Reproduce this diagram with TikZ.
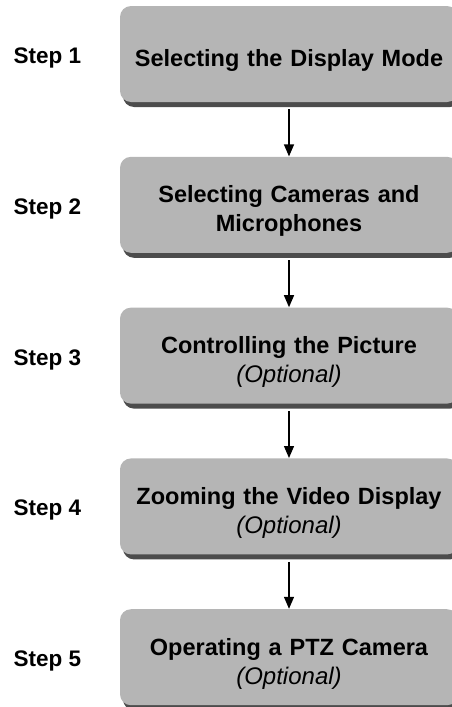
\documentclass[tikz,border=0pt]{standalone}
\usepackage{fontspec}
\setmainfont{Liberation Sans}
\usepackage{tikz}
\usetikzlibrary{shapes,arrows.meta,positioning,shadows}

\begin{document}
\begin{tikzpicture}[x=1pt, y=-1pt, node distance=54pt, thick]
  \tikzstyle{block} = [rectangle, fill=black!29, rounded corners=11pt, minimum width=338pt, minimum height=96pt, text width=330pt, align=center, inner sep=0pt, font=\fontsize{23.5}{29}\selectfont\bfseries, execute at begin node={\rule{0pt}{30pt}}, drop shadow={fill=black!70, shadow xshift=3pt, shadow yshift=-5pt, opacity=1}]
  \tikzstyle{steplabel} = [font=\fontsize{22.5}{26}\selectfont\bfseries, inner sep=0pt]
  \tikzstyle{arrow} = [draw, line width=1.3pt, -{Triangle[width=10pt,length=12pt]}]
  \newcommand{\optional}{\\{\fontsize{24}{29}\selectfont\mdseries\itshape (Optional)}}

  \useasboundingbox (0,0) rectangle (452,707);

  \node[block] at (289,54) (display) {Selecting the Display Mode};
  \node[block, below=of display] (cameras) {Selecting Cameras and\\Microphones};
  \node[block, below=of cameras] (picture) {Controlling the Picture\optional};
  \node[block, below=of picture] (zoom) {Zooming the Video Display\optional};
  \node[block, below=of zoom] (ptz) {Operating a PTZ Camera\optional};

  \node[steplabel, left=38pt of display, yshift=-4pt] (s1) {Step 1};
  \node[steplabel, left=38pt of cameras, yshift=-4pt] (s2) {Step 2};
  \node[steplabel, left=38pt of picture, yshift=-4pt] (s3) {Step 3};
  \node[steplabel, left=38pt of zoom, yshift=-4pt] (s4) {Step 4};
  \node[steplabel, left=38pt of ptz, yshift=-4pt] (s5) {Step 5};

  \path[arrow, shorten <=7pt] (display) -- (cameras);
  \path[arrow, shorten <=7pt] (cameras) -- (picture);
  \path[arrow, shorten <=7pt] (picture) -- (zoom);
  \path[arrow, shorten <=7pt] (zoom) -- (ptz);

\end{tikzpicture}
\end{document}
